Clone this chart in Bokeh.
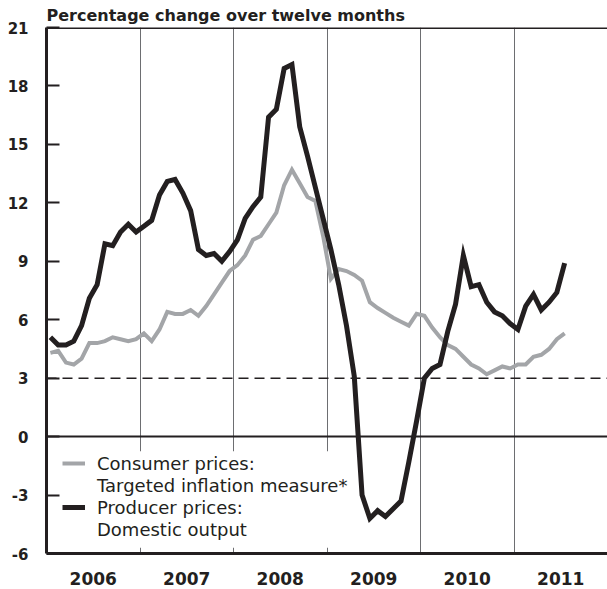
import pandas as pd
from bokeh.plotting import figure
from bokeh.models import (Range1d, FixedTicker, Span, BoxAnnotation, Legend, LegendItem)
from bokeh.embed import file_html
from bokeh.resources import INLINE

# ---- data (monthly, Jan 2006 - Jul 2011), percentage change over twelve months
months = pd.date_range("2006-01-01", periods=67, freq="MS")

consumer_prices = [
    4.3, 4.4, 3.8, 3.7, 4.0, 4.8, 4.8, 4.9, 5.1, 5.0, 4.9, 5.0,      # 2006
    5.3, 4.9, 5.5, 6.4, 6.3, 6.3, 6.5, 6.2, 6.7, 7.3, 7.9, 8.5,      # 2007
    8.8, 9.3, 10.1, 10.3, 10.9, 11.5, 12.9, 13.7, 13.0, 12.3, 12.1, 10.3,  # 2008
    8.1, 8.6, 8.5, 8.3, 8.0, 6.9, 6.6, 6.35, 6.1, 5.9, 5.7, 6.3,     # 2009
    6.2, 5.6, 5.1, 4.7, 4.5, 4.1, 3.7, 3.5, 3.2, 3.4, 3.6, 3.5,      # 2010
    3.7, 3.7, 4.1, 4.2, 4.5, 5.0, 5.3,                               # 2011
]

producer_prices = [
    5.1, 4.7, 4.7, 4.9, 5.7, 7.1, 7.8, 9.9, 9.8, 10.5, 10.9, 10.5,   # 2006
    10.8, 11.1, 12.4, 13.1, 13.2, 12.5, 11.6, 9.6, 9.3, 9.4, 9.0, 9.5,  # 2007
    10.1, 11.2, 11.8, 12.3, 16.4, 16.8, 18.9, 19.1, 15.9, 14.4, 12.8, 11.2,  # 2008
    9.6, 7.8, 5.7, 3.1, -3.0, -4.2, -3.8, -4.1, -3.7, -3.3, -1.3, 0.8,  # 2009
    3.0, 3.5, 3.7, 5.4, 6.8, 9.3, 7.7, 7.8, 6.9, 6.4, 6.2, 5.8,      # 2010
    5.5, 6.7, 7.3, 6.5, 6.9, 7.4, 8.9,                               # 2011
]

year_labels = ["2006", "2007", "2008", "2009", "2010", "2011"]
y_ticks = [-6, -3, 0, 3, 6, 9, 12, 15, 18, 21]
target_upper = 3
legend_labels = ["Consumer prices:", "Targeted inflation measure*",
                 "Producer prices:", "Domestic output"]
title_text = "Percentage change over twelve months"

# ---- positions: month centres in fractional years
x = list(months.year + (months.month - 0.5) / 12.0)
years = [int(y) for y in year_labels]

INK = "#231f20"
GREY = "#a3a5a8"
FONT = "DejaVu Sans"

p = figure(width=607, height=589, output_backend="svg", toolbar_location=None,
           x_range=Range1d(years[0], years[-1] + 1), y_range=Range1d(y_ticks[0], y_ticks[-1]),
           min_border_left=46, min_border_right=0, min_border_top=27, min_border_bottom=36,
           background_fill_color="white", border_fill_color="white")
p.outline_line_color = None

# title
p.title.text = title_text
p.title.text_font = FONT
p.title.text_font_style = "bold"
p.title.text_font_size = "16px"
p.title.text_color = INK
p.title.align = "left"
p.title.standoff = 5

# x axis: year labels centred in each year
p.xaxis.ticker = FixedTicker(ticks=[y + 0.5 for y in years])
p.xaxis.major_label_overrides = {y + 0.5: lab for y, lab in zip(years, year_labels)}
p.xaxis.major_tick_line_color = None
p.xaxis.minor_tick_line_color = None
p.xaxis.axis_line_width = 3
p.xaxis.axis_line_color = INK
p.xaxis.major_label_text_font = FONT
p.xaxis.major_label_text_font_style = "bold"
p.xaxis.major_label_text_font_size = "17px"
p.xaxis.major_label_text_color = INK
p.xaxis.major_label_standoff = 12

# y axis
p.yaxis.ticker = FixedTicker(ticks=y_ticks)
p.yaxis.major_label_overrides = {t: str(t) for t in y_ticks}
p.yaxis.major_tick_in = 13
p.yaxis.major_tick_out = 0
p.yaxis.major_tick_line_width = 2
p.yaxis.major_tick_line_color = INK
p.yaxis.minor_tick_line_color = None
p.yaxis.axis_line_width = 3
p.yaxis.axis_line_color = INK
p.yaxis.major_label_text_font = FONT
p.yaxis.major_label_text_font_style = "bold"
p.yaxis.major_label_text_font_size = "15px"
p.yaxis.major_label_text_color = INK
p.yaxis.major_label_standoff = 18

# grid: thin year dividers only
p.ygrid.grid_line_color = None
p.xgrid.ticker = FixedTicker(ticks=years[1:])
p.xgrid.grid_line_color = "#6d6e71"
p.xgrid.grid_line_width = 1

# white panel behind legend (interrupts the year dividers)
p.add_layout(BoxAnnotation(left=years[0], right=years[3] + 0.5, bottom=-5.7, top=-0.75,
                           fill_color="white", fill_alpha=1.0, line_color=None,
                           level="underlay"))

# reference lines
p.add_layout(Span(location=y_ticks[-1], dimension="width", line_color=INK, line_width=3))
p.add_layout(Span(location=0, dimension="width", line_color=INK, line_width=2, level="underlay"))
p.add_layout(Span(location=target_upper, dimension="width", line_color=INK, line_width=1.5,
                  line_dash="10 6", level="underlay"))

# series
r_cpi = p.line(x, consumer_prices, line_color=GREY, line_width=4, line_join="miter")
r_ppi = p.line(x, producer_prices, line_color=INK, line_width=5, line_join="miter")
blank1 = p.line([], [], line_alpha=0)
blank2 = p.line([], [], line_alpha=0)

legend = Legend(items=[
    LegendItem(label=legend_labels[0], renderers=[r_cpi]),
    LegendItem(label=legend_labels[1], renderers=[blank1]),
    LegendItem(label=legend_labels[2], renderers=[r_ppi]),
    LegendItem(label=legend_labels[3], renderers=[blank2]),
], location=(16, 13), padding=0, spacing=0, margin=0,
    label_height=22, glyph_height=22, glyph_width=23, label_standoff=12,
    background_fill_alpha=0, border_line_color=None,
    label_text_font=FONT, label_text_font_size="18px", label_text_color=INK)
p.add_layout(legend)

open("out.html", "w").write(file_html(p, INLINE))
